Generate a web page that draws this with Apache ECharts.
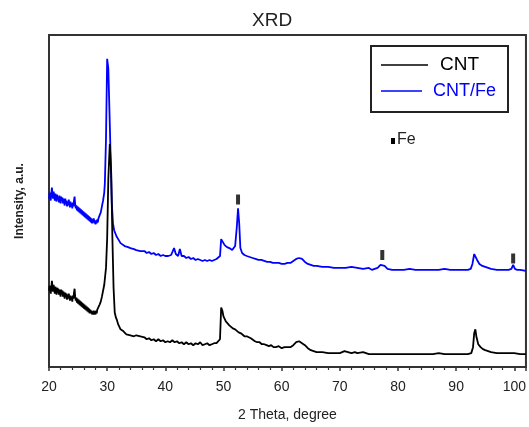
<!DOCTYPE html>
<html>
<head>
<meta charset="utf-8">
<script src="https://cdn.jsdelivr.net/npm/echarts@6/dist/echarts.min.js"></script>
<style>
html,body{margin:0;padding:0;background:#fff;}
#chart{width:529px;height:427px;}
</style>
</head>
<body>
<div id="chart"></div>
<script>
// 2-theta (degree) vs intensity (a.u.) for CNT
const cntSpectrum = [[20.0,77],[20.1,82],[20.2,78],[20.3,74],[20.4,80],[20.5,87],[20.6,81],[20.7,76],[20.8,83],[20.9,78],[21.0,74],[21.1,81],[21.2,77],[21.3,73],[21.4,80],[21.5,75],[21.6,79],[21.7,73],[21.8,78],[21.9,74],[22.0,71],[22.1,78],[22.2,74],[22.3,77],[22.4,71],[22.5,76],[22.6,72],[22.7,69],[22.8,75],[22.9,71],[23.0,74],[23.1,68],[23.2,73],[23.3,69],[23.4,74],[23.5,70],[23.6,67],[23.7,72],[23.8,68],[23.9,71],[24.0,66],[24.1,72],[24.2,69],[24.3,75],[24.4,79],[24.5,71],[24.6,67],[24.7,70],[24.8,65],[24.9,69],[25.0,64],[25.1,68],[25.2,63],[25.3,67],[25.4,62],[25.5,66],[25.6,61],[25.7,65],[25.8,60],[25.9,64],[26.0,59],[26.1,63],[26.2,58],[26.3,62],[26.4,57],[26.5,61],[26.6,56],[26.7,60],[26.8,55],[26.9,59],[27.0,54],[27.1,58],[27.2,54],[27.3,57],[27.4,53],[27.5,56],[27.6,53],[27.7,57],[27.8,53],[27.9,56],[28.0,53],[28.1,57],[28.2,54],[28.3,58],[28.4,56],[28.5,60],[28.6,59],[28.7,63],[28.8,62],[28.9,66],[29.0,67],[29.1,71],[29.2,72],[29.3,77],[29.4,80],[29.5,83],[29.6,85],[29.8,100],[30.0,130],[30.2,190],[30.45,225],[30.7,195],[30.9,130],[31.1,80],[31.3,55],[31.5,50],[31.7,47],[31.9,43],[32.1,41],[32.3,38],[32.5,39],[32.8,36],[33.0,35],[33.3,33],[33.6,35],[34.0,32],[34.3,33],[34.6,31],[35.0,32],[35.3,30],[35.7,31],[36.0,29],[36.4,30],[36.8,28],[37.2,29],[37.6,27],[38.0,28],[38.4,26],[38.8,28],[39.2,26],[39.6,27],[40.0,25],[40.4,26],[40.8,25],[41.2,27],[41.6,25],[42.0,26],[42.4,24],[42.8,25],[43.2,23],[43.6,25],[44.0,23],[44.4,24],[44.8,22],[45.2,24],[45.6,23],[46.0,25],[46.4,22],[46.8,23],[47.2,24],[47.6,22],[48.0,23],[48.4,24],[48.8,24],[49.1,25],[49.4,28],[49.6,60],[49.8,57],[50.0,51],[50.2,49],[50.4,46],[50.7,45],[51.0,42],[51.3,41],[51.6,39],[52.0,38],[52.3,37],[52.6,35],[53.0,34],[53.3,33],[53.6,31],[54.0,31],[54.3,29],[54.7,29],[55.0,27],[55.4,26],[55.8,25],[56.2,25],[56.6,23],[57.0,23],[57.4,22],[57.8,21],[58.2,22],[58.6,20],[59.0,20],[59.5,21],[60.0,19],[60.5,20],[61.0,20],[61.5,20],[62.0,22],[62.5,25],[63.0,26],[63.5,24],[64.0,22],[64.5,19],[65.0,17],[65.5,16],[66.0,15],[67.0,15],[68.0,14],[69.0,14],[70.0,14],[70.8,16],[71.0,14],[72.0,14],[72.6,15],[73.0,14],[74.0,15],[75.0,13],[76.0,13],[77.0,13],[78.0,13],[79.0,13],[80.0,13],[81.0,13],[82.0,13],[83.0,13],[84.0,13],[85.0,13],[86.0,13],[87.0,14],[88.0,13],[89.0,13],[90.0,13],[91.0,13],[92.0,13],[92.6,14],[92.9,20],[93.1,34],[93.3,38],[93.5,30],[93.8,23],[94.2,20],[94.6,18],[95.0,17],[95.5,16],[96.0,15],[97.0,14],[98.0,14],[99.0,14],[100.0,14],[101.0,13],[102.0,13]];

// 2-theta (degree) vs intensity (a.u.) for CNT/Fe
const cntFeSpectrum = [[20.0,170],[20.1,176],[20.2,171],[20.3,168],[20.4,175],[20.5,181],[20.6,174],[20.7,170],[20.8,177],[20.9,172],[21.0,168],[21.1,175],[21.2,171],[21.3,167],[21.4,174],[21.5,169],[21.6,172],[21.7,166],[21.8,173],[21.9,169],[22.0,165],[22.1,172],[22.2,168],[22.3,171],[22.4,165],[22.5,170],[22.6,166],[22.7,163],[22.8,170],[22.9,165],[23.0,168],[23.1,162],[23.2,167],[23.3,163],[23.4,169],[23.5,164],[23.6,161],[23.7,167],[23.8,162],[23.9,165],[24.0,160],[24.1,166],[24.2,162],[24.3,168],[24.4,172],[24.5,164],[24.6,160],[24.7,163],[24.8,158],[24.9,162],[25.0,157],[25.1,161],[25.2,156],[25.3,160],[25.4,155],[25.5,159],[25.6,154],[25.7,158],[25.8,153],[25.9,157],[26.0,152],[26.1,156],[26.2,151],[26.3,155],[26.4,150],[26.5,154],[26.6,149],[26.7,153],[26.8,148],[26.9,152],[27.0,147],[27.1,151],[27.2,146],[27.3,150],[27.4,145],[27.5,149],[27.6,146],[27.7,150],[27.8,145],[27.9,148],[28.0,144],[28.1,148],[28.2,145],[28.3,149],[28.4,146],[28.5,150],[28.6,148],[28.7,153],[28.8,151],[28.9,156],[29.0,158],[29.1,162],[29.2,164],[29.3,168],[29.4,170],[29.5,176],[29.6,185],[29.8,230],[30.0,311],[30.2,301],[30.4,257],[30.6,210],[30.8,165],[31.0,145],[31.2,138],[31.4,135],[31.6,132],[31.8,130],[32.0,128],[32.3,125],[32.6,126],[33.0,122],[33.3,123],[33.6,121],[34.0,120],[34.3,121],[34.6,119],[35.0,118],[35.3,119],[35.7,117],[36.0,116],[36.4,117],[36.8,115],[37.2,116],[37.6,114],[38.0,115],[38.4,113],[38.8,114],[39.2,112],[39.6,113],[40.0,112],[40.5,112],[41.0,113],[41.5,120],[41.8,114],[42.2,112],[42.5,119],[42.8,112],[43.2,112],[43.6,110],[44.0,111],[44.4,109],[44.8,110],[45.2,108],[45.6,109],[46.0,108],[46.4,107],[46.8,108],[47.2,107],[47.6,108],[48.0,107],[48.4,108],[48.8,109],[49.1,109],[49.4,112],[49.6,129],[49.9,126],[50.2,123],[50.6,121],[51.0,120],[51.5,118],[52.0,122],[52.3,142],[52.5,160],[52.7,145],[52.9,120],[53.2,115],[53.6,113],[54.0,112],[54.5,111],[55.0,110],[55.5,109],[56.0,108],[56.5,108],[57.0,107],[57.5,106],[58.0,106],[58.5,105],[59.0,105],[59.5,105],[60.0,104],[60.5,104],[61.0,105],[61.5,105],[62.0,107],[62.5,109],[63.0,110],[63.5,109],[64.0,106],[64.5,104],[65.0,103],[65.5,102],[66.0,102],[67.0,101],[68.0,101],[69.0,100],[70.0,100],[71.0,100],[72.0,101],[73.0,100],[74.0,99],[75.0,100],[75.5,98],[76.0,99],[76.5,100],[77.0,103],[77.3,105],[77.7,102],[78.2,99],[79.0,98],[80.0,98],[81.0,98],[82.0,99],[83.0,98],[84.0,98],[85.0,98],[86.0,98],[87.0,98],[88.0,99],[89.0,98],[90.0,98],[91.0,98],[92.0,98],[92.5,99],[92.8,104],[93.1,114],[93.3,116],[93.6,108],[94.0,104],[94.5,102],[95.0,101],[95.5,100],[96.0,99],[97.0,98],[98.0,98],[99.0,98],[99.5,99],[99.8,103],[100.1,99],[100.5,98],[101.0,98],[102.0,97]];

// Fe reflection markers (2-theta, marker height)
const feMarkers = [[52.5,169],[77.3,113],[99.8,109.5]];

const seriesNames = ['CNT', 'CNT/Fe'];
const seriesColors = ['#000000', '#0000ff'];
const xTickLabels = ['20','30','40','50','60','70','80','90','100'];

const chart = echarts.init(document.getElementById('chart'), null, {renderer: 'canvas'});
const FONT = 'Liberation Sans, Arial, sans-serif';

chart.setOption({
  backgroundColor: '#ffffff',
  animation: false,
  title: {
    text: 'XRD',
    left: 247,
    top: 6,
    textStyle: {fontFamily: FONT, fontSize: 19, fontWeight: 'normal', color: '#222'}
  },
  grid: {
    left: 49, top: 35, right: -2, bottom: 57,
    show: true, borderColor: '#333', borderWidth: 2, backgroundColor: 'transparent'
  },
  xAxis: {
    type: 'value',
    min: 20, max: 102, interval: 10,
    name: '2 Theta, degree',
    nameLocation: 'middle',
    nameGap: 41,
    nameTextStyle: {fontFamily: FONT, fontSize: 14, color: '#222'},
    axisLine: {lineStyle: {color: '#333', width: 2}},
    axisTick: {show: true, inside: false, length: 4, lineStyle: {color: '#333', width: 1.5}},
    minorTick: {show: true, splitNumber: 5, length: 3, lineStyle: {color: '#333', width: 1.2}},
    splitLine: {show: false},
    axisLabel: {
      fontFamily: FONT, fontSize: 14, color: '#222', margin: 13,
      showMaxLabel: false,
      formatter: function (v) { return xTickLabels.indexOf(String(v)) >= 0 ? String(v) : ''; }
    }
  },
  yAxis: {
    type: 'value',
    min: 0, max: 335,
    name: 'Intensity, a.u.',
    nameLocation: 'middle',
    nameGap: 23,
    nameTextStyle: {fontFamily: FONT, fontSize: 12, fontWeight: 'bold', color: '#222'},
    axisLine: {show: true, lineStyle: {color: '#333', width: 2}},
    axisTick: {show: false},
    axisLabel: {show: false},
    splitLine: {show: false}
  },
  series: [
    {
      name: seriesNames[1], type: 'line', data: cntFeSpectrum,
      symbol: 'none', lineStyle: {color: seriesColors[1], width: 1.8}, z: 2
    },
    {
      name: seriesNames[0], type: 'line', data: cntSpectrum,
      symbol: 'none', lineStyle: {color: seriesColors[0], width: 1.8}, z: 3
    },
    {
      name: 'Fe', type: 'scatter', data: feMarkers,
      symbol: 'rect', symbolSize: [4, 10],
      itemStyle: {color: '#000'}, z: 4
    }
  ],
  graphic: [
    {type: 'rect', shape: {x: 371, y: 46, width: 137, height: 66},
     style: {fill: '#fff', stroke: '#222', lineWidth: 2}, z: 10},
    {type: 'line', shape: {x1: 381, y1: 65, x2: 428, y2: 65},
     style: {stroke: seriesColors[0], lineWidth: 1.5}, z: 11},
    {type: 'text', x: 440, y: 65,
     style: {text: seriesNames[0], fill: seriesColors[0], font: '19px ' + FONT, verticalAlign: 'middle', align: 'left'}, z: 11},
    {type: 'line', shape: {x1: 381, y1: 91, x2: 422, y2: 91},
     style: {stroke: seriesColors[1], lineWidth: 1.5}, z: 11},
    {type: 'text', x: 433, y: 91,
     style: {text: seriesNames[1], fill: seriesColors[1], font: '18px ' + FONT, verticalAlign: 'middle', align: 'left'}, z: 11},
    {type: 'rect', shape: {x: 391, y: 138, width: 4, height: 6},
     style: {fill: '#000'}, z: 11},
    {type: 'text', x: 397, y: 140,
     style: {text: 'Fe', fill: '#222', font: '16px ' + FONT, verticalAlign: 'middle', align: 'left'}, z: 11}
  ]
});
</script>
</body>
</html>
